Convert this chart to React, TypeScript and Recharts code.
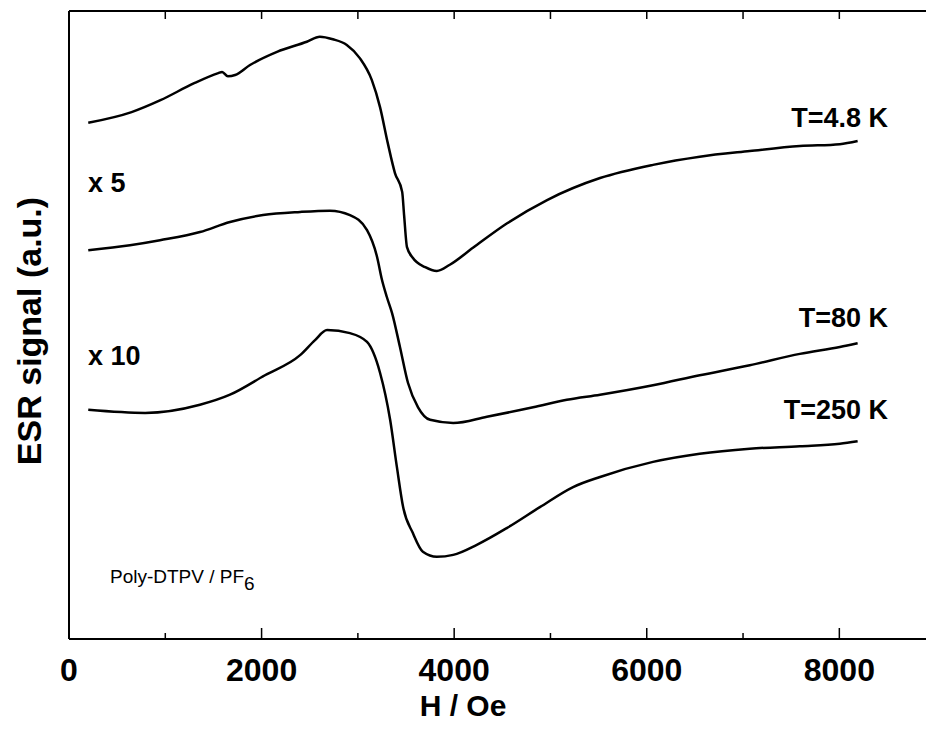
import React from 'react';
import { LineChart, Line, XAxis, YAxis, Label, CartesianGrid } from 'recharts';

// field H (Oe) and ESR signal (a.u.)
const h48 = [200, 650, 950, 1300, 1550, 1590, 1650, 1725, 1880, 2160, 2470, 2605, 2740, 2885, 3020, 3145, 3230, 3310, 3385, 3460, 3480, 3510, 3570, 3700, 3820, 3955, 4195, 4550, 4965, 5515, 6065, 6550, 7070, 7590, 8005, 8190];
const v48 = [82.2, 83.9, 85.8, 88.5, 90.1, 90.3, 89.6, 89.8, 91.4, 93.5, 95.1, 95.9, 95.5, 94.6, 92.5, 89.0, 84.7, 79.0, 74.2, 71.2, 67.5, 62.4, 60.7, 59.2, 58.6, 59.6, 62.3, 66.2, 69.9, 73.4, 75.5, 76.8, 77.7, 78.5, 78.8, 79.3];

const h80 = [200, 633, 945, 1360, 1672, 2015, 2400, 2710, 2918, 3095, 3200, 3250, 3300, 3355, 3437, 3520, 3625, 3750, 3990, 4340, 4820, 5170, 5515, 6065, 6550, 7070, 7590, 8005, 8190];
const v80 = [61.9, 62.7, 63.5, 64.8, 66.4, 67.5, 68.0, 68.2, 67.5, 65.1, 60.8, 57.2, 54.5, 51.9, 46.5, 40.8, 36.9, 34.9, 34.4, 35.4, 36.9, 38.1, 38.9, 40.4, 42.0, 43.6, 45.4, 46.5, 47.1];

const h250 = [200, 790, 1360, 1672, 2035, 2400, 2555, 2680, 2918, 3095, 3230, 3335, 3405, 3470, 3570, 3675, 3820, 3990, 4235, 4550, 4890, 5235, 5515, 6065, 6550, 7070, 7590, 8005, 8190];
const v250 = [36.5, 36.0, 37.3, 38.9, 42.0, 45.2, 47.6, 49.2, 48.7, 47.3, 42.4, 34.9, 27.4, 21.0, 16.9, 13.9, 13.1, 13.4, 15.0, 17.7, 21.0, 24.2, 25.8, 28.2, 29.5, 30.3, 30.7, 31.1, 31.5];

const xTicks = [0, 1000, 2000, 3000, 4000, 5000, 6000, 7000, 8000];
const H_MAX = 8900;

const toRows = (h: number[], v: number[]) => h.map((x, i) => ({ h: x, v: v[i] }));

const FONT = '"Liberation Sans", Arial, sans-serif';

const BottomTick = (props: any) => {
  const { x, y, payload } = props;
  const major = payload.value % 2000 === 0;
  return (
    <g>
      <line x1={x} y1={y} x2={x} y2={y - (major ? 11 : 6)} stroke="#000" strokeWidth={1.5} />
      {major && (
        <text x={x} y={y + 42} textAnchor="middle" fontFamily={FONT} fontWeight="bold" fontSize={32} fill="#000">
          {payload.value}
        </text>
      )}
    </g>
  );
};

const note = (extra: React.CSSProperties): React.CSSProperties => ({
  position: 'absolute',
  fontFamily: FONT,
  fontWeight: 'bold',
  color: '#000',
  lineHeight: 1,
  whiteSpace: 'nowrap',
  transform: 'translateY(-50%)',
  ...extra,
});

export default function App() {
  return (
    <div style={{ position: 'relative', width: 926, height: 729, background: '#fff' }}>
      <style>{'body{margin:0;}'}</style>
      <LineChart width={926} height={729} margin={{ top: 0, right: 0, bottom: 0, left: 0 }}>
        {/* top frame line */}
        <CartesianGrid vertical={false} horizontalValues={[100]} stroke="#000" strokeWidth={2} />
        <XAxis
          type="number"
          dataKey="h"
          domain={[0, H_MAX]}
          ticks={xTicks}
          allowDataOverflow
          height={90}
          tickSize={0}
          tickMargin={0}
          tickLine={false}
          axisLine={{ stroke: '#000', strokeWidth: 2 }}
          tick={<BottomTick />}
        >
          <Label
            content={() => (
              <text x={463} y={716} textAnchor="middle" fontFamily={FONT} fontWeight="bold" fontSize={30} fill="#000">
                H / Oe
              </text>
            )}
          />
        </XAxis>
        <XAxis
          xAxisId="top"
          orientation="top"
          type="number"
          dataKey="h"
          domain={[0, H_MAX]}
          ticks={xTicks}
          height={11}
          tickSize={-8}
          tickFormatter={() => ''}
          stroke="#000"
          tickLine={{ stroke: '#000', strokeWidth: 1.5 }}
          axisLine={{ stroke: '#000', strokeWidth: 2 }}
        />
        <YAxis
          type="number"
          domain={[0, 100]}
          width={69}
          allowDataOverflow
          tick={false}
          tickLine={false}
          axisLine={{ stroke: '#000', strokeWidth: 2 }}
        >
          <Label
            content={() => (
              <text
                x={29}
                y={331}
                transform="rotate(-90 29 331)"
                textAnchor="middle"
                dominantBaseline="central"
                fontFamily={FONT}
                fontWeight="bold"
                fontSize={34}
                fill="#000"
              >
                ESR signal (a.u.)
              </text>
            )}
          />
        </YAxis>
        <Line xAxisId="top" data={toRows(h48, v48)} dataKey="v" type="monotone" stroke="#000" strokeWidth={2.5} dot={false} isAnimationActive={false} />
        <Line data={toRows(h80, v80)} dataKey="v" type="monotone" stroke="#000" strokeWidth={2.5} dot={false} isAnimationActive={false} />
        <Line data={toRows(h250, v250)} dataKey="v" type="monotone" stroke="#000" strokeWidth={2.5} dot={false} isAnimationActive={false} />
      </LineChart>

      <div style={note({ right: 38, top: 118, fontSize: 27 })}>T=4.8 K</div>
      <div style={note({ right: 38, top: 318, fontSize: 27 })}>T=80 K</div>
      <div style={note({ right: 38, top: 410, fontSize: 27 })}>T=250 K</div>
      <div style={note({ left: 88, top: 183, fontSize: 27 })}>x 5</div>
      <div style={note({ left: 88, top: 356, fontSize: 27 })}>x 10</div>
      <div style={note({ left: 110, top: 580, fontSize: 19, fontWeight: 'normal' })}>
        Poly-DTPV / PF<sub style={{ fontSize: 19, verticalAlign: '-0.35em' }}>6</sub>
      </div>
    </div>
  );
}
